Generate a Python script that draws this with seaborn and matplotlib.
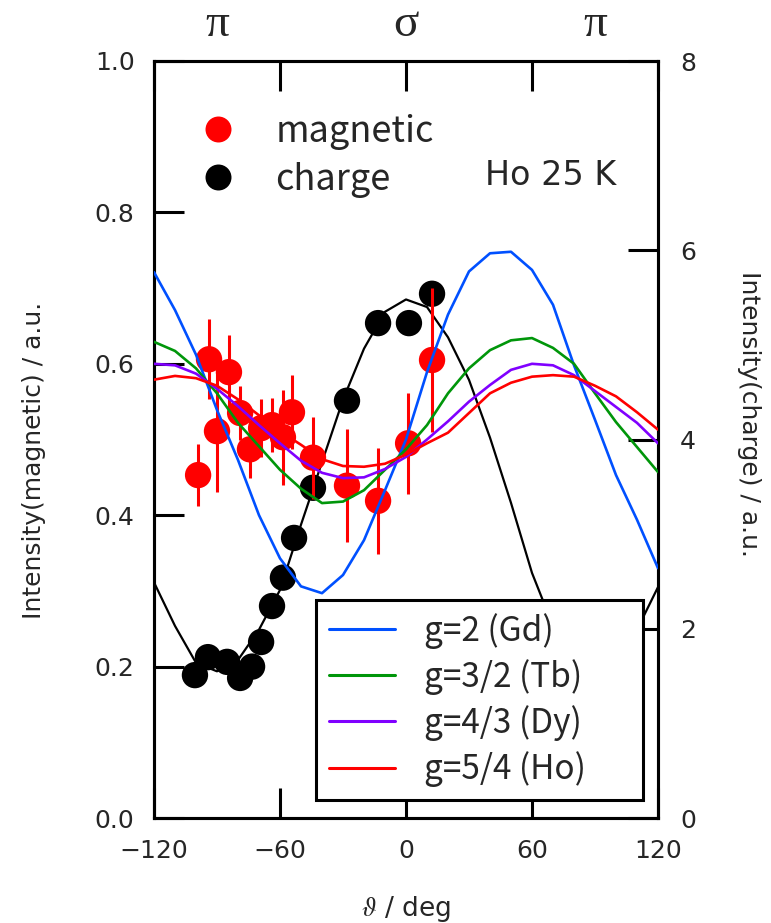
import matplotlib
matplotlib.use("Agg")
import matplotlib.pyplot as plt
from matplotlib.lines import Line2D
import pandas as pd
import seaborn as sns

# ---- measured points -------------------------------------------------------
angle_mag = [-99.0, -93.8, -90.0, -84.3, -79.0, -74.3, -69.0, -63.8, -58.6,
             -54.3, -44.3, -28.1, -13.3, 1.0, 12.4]
mag = [0.453, 0.606, 0.511, 0.589, 0.535, 0.487, 0.515, 0.519, 0.503,
       0.536, 0.476, 0.439, 0.419, 0.495, 0.605]
mag_err = [0.041, 0.053, 0.080, 0.049, 0.036, 0.038, 0.038, 0.036, 0.063,
           0.049, 0.054, 0.075, 0.070, 0.067, 0.095]

angle_chg = [-100.5, -94.3, -85.2, -79.0, -73.3, -69.0, -63.8, -58.6, -53.3,
             -44.3, -28.1, -13.3, 1.4, 12.4]
chg = [1.51, 1.70, 1.65, 1.48, 1.60, 1.86, 2.24, 2.54, 2.96,
       3.49, 4.41, 5.23, 5.23, 5.54]

# ---- calculated curves (every 10 deg) --------------------------------------
theta_calc = [-120, -110, -100, -90, -80, -70, -60, -50, -40, -30, -20, -10, 0,
              10, 20, 30, 40, 50, 60, 70, 80, 90, 100, 110, 120]
calc_gd = [0.721, 0.671, 0.612, 0.539, 0.473, 0.400, 0.343, 0.306, 0.297,
           0.321, 0.367, 0.433, 0.500, 0.589, 0.665, 0.722, 0.746, 0.748,
           0.724, 0.678, 0.598, 0.526, 0.453, 0.394, 0.330]
calc_tb = [0.629, 0.617, 0.594, 0.561, 0.522, 0.491, 0.460, 0.435, 0.416,
           0.418, 0.433, 0.460, 0.487, 0.519, 0.561, 0.594, 0.618, 0.631,
           0.634, 0.621, 0.600, 0.561, 0.523, 0.490, 0.457]
calc_dy = [0.600, 0.598, 0.587, 0.567, 0.544, 0.519, 0.495, 0.472, 0.456,
           0.449, 0.450, 0.461, 0.477, 0.500, 0.524, 0.550, 0.572, 0.592,
           0.600, 0.598, 0.585, 0.564, 0.543, 0.522, 0.495]
calc_ho = [0.579, 0.584, 0.581, 0.571, 0.553, 0.532, 0.511, 0.493, 0.474,
           0.465, 0.464, 0.468, 0.480, 0.495, 0.509, 0.535, 0.561, 0.575,
           0.583, 0.585, 0.583, 0.571, 0.557, 0.536, 0.513]
calc_charge = [2.49, 2.03, 1.64, 1.55, 1.67, 1.99, 2.41, 3.10, 3.76, 4.42,
               4.96, 5.35, 5.48, 5.40, 5.08, 4.63, 4.02, 3.33, 2.59, 2.03,
               1.64, 1.55, 1.67, 1.99, 2.44]

g_labels = ["g=2 (Gd)", "g=3/2 (Tb)", "g=4/3 (Dy)", "g=5/4 (Ho)"]
g_colors = ["#0050ff", "#00960a", "#8000ff", "#ff0000"]

x_ticks = [-120, -60, 0, 60, 120]
mag_ticks = [0.0, 0.2, 0.4, 0.6, 0.8, 1.0]
chg_ticks = [0, 2, 4, 6, 8]
pol_ticks = [-90, 0, 90]
pol_labels = ["\u03c0", "\u03c3", "\u03c0"]

# ---- style -----------------------------------------------------------------
sns.set_theme(style="ticks")
plt.rcParams["font.family"] = ["DejaVu Sans"]
plt.rcParams["mathtext.fontset"] = "stix"
plt.rcParams["axes.unicode_minus"] = True
LEG_FONT = "Noto Sans CJK JP"
LW_FRAME = 2.2

fig = plt.figure(figsize=(7.71, 9.23), dpi=100)
fig.patch.set_facecolor("white")
ax = fig.add_axes([154 / 771, 105 / 923, 504 / 771, 757 / 923])
ax2 = ax.twinx()
ax.set_zorder(ax2.get_zorder() + 1)
ax.patch.set_visible(False)

# charge data on the right axis
sns.lineplot(x=theta_calc, y=calc_charge, ax=ax2, color="black", lw=1.6,
             zorder=1, legend=False)
sns.scatterplot(x=angle_chg, y=chg, ax=ax2, color="black", s=360,
                edgecolor="none", zorder=2, legend=False)

# magnetic data on the left axis
ax.errorbar(angle_mag, mag, yerr=mag_err, fmt="none", ecolor="red",
            elinewidth=2.2, capsize=0, zorder=2)
sns.scatterplot(x=angle_mag, y=mag, ax=ax, color="red", s=360,
                edgecolor="none", zorder=3, legend=False)

curves = pd.DataFrame({
    "theta": theta_calc * 4,
    "I": calc_gd + calc_tb + calc_dy + calc_ho,
    "g": sum([[lab] * len(theta_calc) for lab in g_labels], []),
})
sns.lineplot(data=curves, x="theta", y="I", hue="g", hue_order=g_labels,
             palette=g_colors, lw=1.9, ax=ax, zorder=4, legend=False)

# ---- axes ------------------------------------------------------------------
ax.set_xlim(-120, 120)
ax.set_ylim(0, 1)
ax2.set_ylim(0, 8)
ax.set_xticks(x_ticks)
ax.set_yticks(mag_ticks)
ax.set_yticklabels([f"{v:.1f}" for v in mag_ticks])
ax2.set_yticks(chg_ticks)

ax.tick_params(axis="both", direction="in", length=21.6, width=LW_FRAME,
               labelsize=18, top=True, right=False, color="black")
ax.tick_params(axis="x", pad=15)
ax.tick_params(axis="y", pad=14)
ax2.tick_params(axis="y", direction="in", length=21.6, width=LW_FRAME,
                labelsize=18, pad=16, color="black")
for a in (ax, ax2):
    for s in a.spines.values():
        s.set_linewidth(LW_FRAME)
        s.set_color("black")

top = ax.secondary_xaxis("top")
top.set_xticks(pol_ticks)
top.set_xticklabels(pol_labels)
top.tick_params(length=0, labelsize=34, pad=11)
top.spines["top"].set_visible(False)
for lbl in top.get_xticklabels():
    lbl.set_fontfamily("Liberation Serif")

ax.set_xlabel(r"$\vartheta$ / deg", fontsize=19)
ax.xaxis.set_label_coords(0.5, -0.1)
ax.set_ylabel("Intensity(magnetic) / a.u.", fontsize=18)
ax.yaxis.set_label_coords(-0.215, 0.473)
ax2.set_ylabel("Intensity(charge) / a.u.", fontsize=18, rotation=270,
               va="bottom")
ax2.yaxis.set_label_coords(1.157, 0.534)

ax.text(0.657, 0.849, "Ho 25 K", transform=ax.transAxes, fontsize=24,
        ha="left", va="center")

# ---- legends ---------------------------------------------------------------
dot_handles = [
    Line2D([], [], ls="none", marker="o", markersize=18.7, color="red",
           mec="none"),
    Line2D([], [], ls="none", marker="o", markersize=18.7, color="black",
           mec="none"),
]
leg1 = ax.legend(dot_handles, ["magnetic", "charge"], loc="upper left",
                 bbox_to_anchor=(0.055, 0.954), frameon=False, borderpad=0,
                 handlelength=1.0, handletextpad=1.1, labelspacing=0.33,
                 prop={"family": LEG_FONT, "size": 26})
ax.add_artist(leg1)

line_handles = [Line2D([], [], color=c, lw=2.2) for c in g_colors]
leg2 = ax.legend(line_handles, g_labels, loc="lower left",
                 bbox_to_anchor=((316 - 154) / 504, (818 - 800) / 757,
                                 (643 - 316) / 504, (800 - 600) / 757),
                 mode="expand", frameon=True, fancybox=False,
                 edgecolor="black", framealpha=1, borderaxespad=0,
                 borderpad=0.38, handlelength=2.0, handletextpad=0.85,
                 labelspacing=0.31, prop={"family": LEG_FONT, "size": 24})
leg2.get_frame().set_linewidth(LW_FRAME)
leg2.set_zorder(10)

fig.savefig("out.png", dpi=100, facecolor="white")
